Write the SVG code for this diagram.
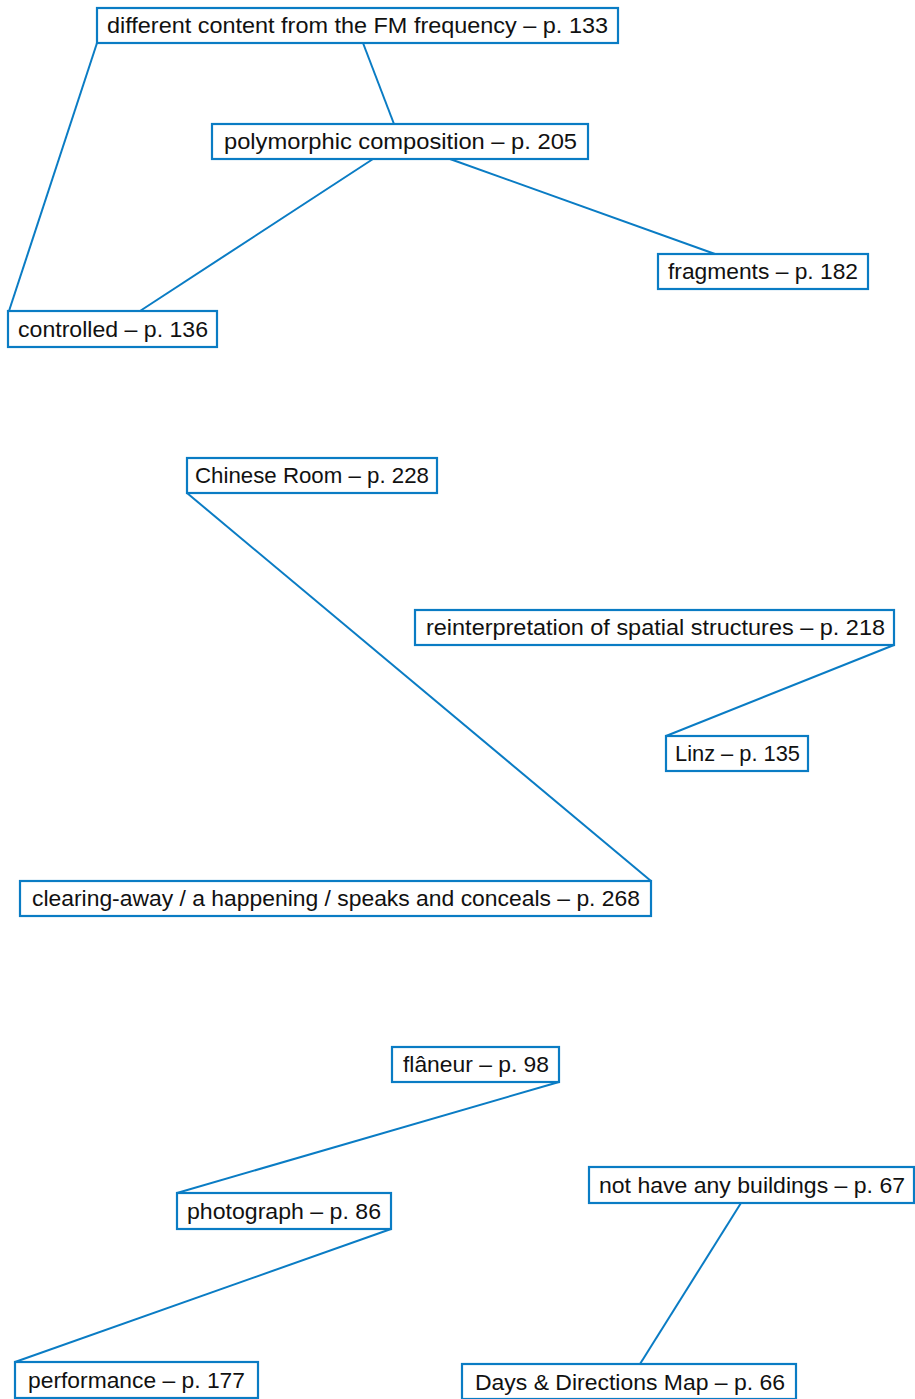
<svg xmlns="http://www.w3.org/2000/svg" width="915" height="1399" viewBox="0 0 915 1399">
<style>
.box{fill:#fff;stroke:#0a7cc4;stroke-width:2.2}
.lbl{font-family:"Liberation Sans",Arial,sans-serif;font-size:21.5px;fill:#111}
.con line{stroke:#0a7cc4;stroke-width:2}
</style>
<rect width="915" height="1399" fill="#fff"/>
<g class="con" id="connectors">
<line x1="97" y1="43" x2="9" y2="311"/>
<line x1="363" y1="43" x2="394" y2="124"/>
<line x1="373" y1="159" x2="140" y2="311"/>
<line x1="450" y1="159" x2="715" y2="254"/>
<line x1="187" y1="493" x2="651" y2="881"/>
<line x1="894" y1="645" x2="666" y2="736"/>
<line x1="559" y1="1082" x2="177" y2="1193"/>
<line x1="391" y1="1229" x2="15" y2="1362"/>
<line x1="741" y1="1203" x2="640" y2="1364"/>
</g>
<g id="n1"><rect class="box" x="97" y="8" width="521" height="35"/><text class="lbl" x="107" y="32.5" textLength="501" lengthAdjust="spacingAndGlyphs">different content from the FM frequency – p. 133</text></g>
<g id="n2"><rect class="box" x="212" y="124" width="376" height="35"/><text class="lbl" x="224" y="148.5" textLength="353" lengthAdjust="spacingAndGlyphs">polymorphic composition – p. 205</text></g>
<g id="n3"><rect class="box" x="658" y="254" width="210" height="35"/><text class="lbl" x="668" y="278.5" textLength="190" lengthAdjust="spacingAndGlyphs">fragments – p. 182</text></g>
<g id="n4"><rect class="box" x="8" y="311" width="209" height="36"/><text class="lbl" x="18" y="336.5" textLength="190" lengthAdjust="spacingAndGlyphs">controlled – p. 136</text></g>
<g id="n5"><rect class="box" x="187" y="458" width="250" height="35"/><text class="lbl" x="195" y="482.5" textLength="234" lengthAdjust="spacingAndGlyphs">Chinese Room – p. 228</text></g>
<g id="n6"><rect class="box" x="415" y="610" width="479" height="35"/><text class="lbl" x="426" y="634.5" textLength="459" lengthAdjust="spacingAndGlyphs">reinterpretation of spatial structures – p. 218</text></g>
<g id="n7"><rect class="box" x="666" y="736" width="142" height="35"/><text class="lbl" x="675" y="760.5" textLength="125" lengthAdjust="spacingAndGlyphs">Linz – p. 135</text></g>
<g id="n8"><rect class="box" x="20" y="881" width="631" height="35"/><text class="lbl" x="32" y="905.5" textLength="608" lengthAdjust="spacingAndGlyphs">clearing-away / a happening / speaks and conceals – p. 268</text></g>
<g id="n9"><rect class="box" x="392" y="1047" width="167" height="35"/><text class="lbl" x="403" y="1071.5" textLength="146" lengthAdjust="spacingAndGlyphs">flâneur – p. 98</text></g>
<g id="n10"><rect class="box" x="177" y="1193" width="214" height="36"/><text class="lbl" x="187" y="1218.5" textLength="194" lengthAdjust="spacingAndGlyphs">photograph – p. 86</text></g>
<g id="n11"><rect class="box" x="589" y="1167" width="325" height="36"/><text class="lbl" x="599" y="1192.5" textLength="306" lengthAdjust="spacingAndGlyphs">not have any buildings – p. 67</text></g>
<g id="n12"><rect class="box" x="15" y="1362" width="243" height="36"/><text class="lbl" x="28" y="1387.5" textLength="217" lengthAdjust="spacingAndGlyphs">performance – p. 177</text></g>
<g id="n13"><rect class="box" x="462" y="1364" width="334" height="35"/><text class="lbl" x="475" y="1389.5" textLength="310" lengthAdjust="spacingAndGlyphs">Days &amp; Directions Map – p. 66</text></g>
</svg>
